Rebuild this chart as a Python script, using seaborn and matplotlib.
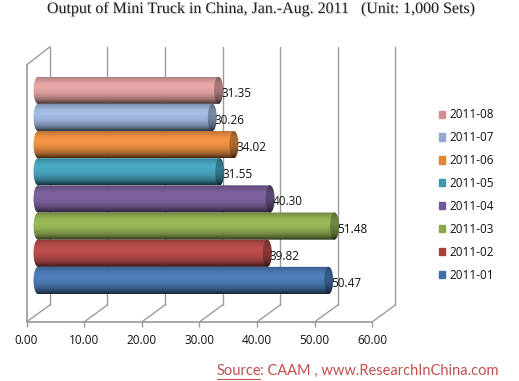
import numpy as np
import pandas as pd
import seaborn as sns
import matplotlib.pyplot as plt
import matplotlib.patheffects as pe
from matplotlib.patches import Patch
from matplotlib.path import Path
from matplotlib.transforms import Affine2D
from matplotlib.colors import to_rgb

# top bar first
months = ['2011-08', '2011-07', '2011-06', '2011-05', '2011-04', '2011-03', '2011-02', '2011-01']
output = [31.35, 30.26, 34.02, 31.55, 40.30, 51.48, 39.82, 50.47]
bar_colors = ['#eba8a9', '#a6bfe8', '#f79646', '#4bacc6', '#8064a2', '#9bbb59', '#c0504d', '#4f81bd']
legend_colors = ['#d09093', '#95a9d0', '#e08638', '#3e97ae', '#73569a', '#8aa848', '#a9403d', '#3e6fa8']
x_ticks = [0, 10, 20, 30, 40, 50, 60]

title = 'Output of Mini Truck in China, Jan.-Aug. 2011   (Unit: 1,000 Sets)'
source_a = 'Source'
source_b = ': CAAM , www.ResearchInChina.com'

W, H = 519, 381
WALL = '#9c9c9c'
RED = '#c0504d'


def px_axes(fig, left, top, right, bottom):
    return fig.add_axes([left / W, 1 - bottom / H, (right - left) / W, (bottom - top) / H])


def shade(color, factor=1.0):
    stops = [0.72, 0.82, 0.97, 1.0, 0.92, 0.72, 0.5, 0.3]
    pos = np.linspace(0, 1, 40)
    vals = np.interp(pos, [0, 0.08, 0.25, 0.38, 0.6, 0.8, 0.92, 1], stops) * factor
    return np.clip(np.outer(vals, to_rgb(color)).reshape(40, 1, 3), 0, 1)


def gradient(ax, path, box, color, factor, z):
    im = ax.imshow(shade(color, factor), extent=box, aspect='auto', zorder=z, interpolation='bilinear')
    im.set_clip_path(path, transform=ax.transData)


sns.set_theme(style='white')
plt.rcParams['font.family'] = ['Open Sans', 'DejaVu Sans']
fig = plt.figure(figsize=(W / 100, H / 100), dpi=100)

# back wall, front plane and overlay share the same 5.76 px per unit
ax_back = px_axes(fig, 49.7, 47, 395.3, 305)
ax_back.set_xlim(0, 60)
ax_back.set_xticks(x_ticks)
ax_back.set_yticks([])
ax_back.grid(axis='x', color=WALL, lw=1)
for line in ax_back.get_xgridlines():
    line.set_clip_on(False)
ax_back.tick_params(labelbottom=False, bottom=False)
sns.despine(ax=ax_back, left=True, bottom=True)

ax_front = px_axes(fig, 26.5, 65, 372.1, 322)
ax_front.patch.set_alpha(0)
ax_front.set_xlim(0, 60)
ax_front.set_xticks(x_ticks)
ax_front.set_xticklabels([f'{t:.2f}' for t in x_ticks], fontsize=8.5, color='#111111')
ax_front.set_yticks([])
ax_front.tick_params(axis='x', bottom=True, length=3.5, width=1, color=WALL, pad=5)
sns.despine(ax=ax_front)
ax_front.spines['left'].set_color(WALL)
ax_front.spines['bottom'].set_color(WALL)

# floor and side wall diagonals, from the same ticks
ax_over = fig.add_axes([0, 0, 1, 1])
ax_over.set_xlim(0, W)
ax_over.set_ylim(H, 0)
ax_over.axis('off')
ax_over.patch.set_alpha(0)
for t in x_ticks:
    ax_over.plot([26.5 + t * 5.76, 49.7 + t * 5.76], [322, 305], color=WALL, lw=1)
ax_over.plot([26.5, 49.7], [65, 47], color=WALL, lw=1)

# bars sit halfway into the depth, axes start 2 units early so the round left ends show
ax_bars = px_axes(fig, 38 - 2 * 5.76, 76.7, 383.6, 294)
ax_bars.patch.set_alpha(0)
df = pd.DataFrame({'month': months, 'output': output})
sns.barplot(data=df, y='month', x='output', hue='month', palette=bar_colors, width=1,
            dodge=False, legend=False, ax=ax_bars)
ax_bars.axis('off')

cap_w = 9 / 5.76
for i, (cont, color) in enumerate(zip(ax_bars.containers, bar_colors)):
    bar = cont[0]
    w, y, h = bar.get_width(), bar.get_y(), bar.get_height()
    bar.set_visible(False)
    y0, y1 = min(y, y + h), max(y, y + h)
    z = 3 + i * 0.01
    squash = Affine2D().scale(cap_w / 2, (y1 - y0) / 2)
    left = Path.unit_circle().transformed(squash + Affine2D().translate(0, (y0 + y1) / 2))
    right = Path.unit_circle().transformed(squash + Affine2D().translate(w, (y0 + y1) / 2))
    rect = Path([(0, y0), (w, y0), (w, y1), (0, y1), (0, y0)], closed=True)
    body = Path.make_compound_path(rect, left)
    gradient(ax_bars, body, (-cap_w, w + cap_w, y1, y0), color, 1.0, z)
    gradient(ax_bars, right, (w - cap_w, w + cap_w, y1, y0), color, 0.72, z + 0.001)
    ax_bars.annotate(f'{output[i]:.2f}', (w, (y0 + y1) / 2), xytext=(1.8, -2.2), textcoords='offset points',
                     ha='left', va='center', fontsize=8.5, color='#111111', zorder=10,
                     annotation_clip=False)
ax_bars.set_xlim(-2, 60)
ax_bars.set_ylim(7.5, -0.5)

handles = [Patch(color=c, label=m) for c, m in zip(legend_colors, months)]
fig.legend(handles=handles, loc='center left', bbox_to_anchor=(428 / W, 1 - 195 / H), frameon=False,
           fontsize=8.5, handlelength=0.55, handleheight=0.55, handletextpad=0.4,
           labelspacing=0.84, labelcolor='#111111')

fig.text(261 / W, 1 - 9 / H, title, ha='center', va='center', fontsize=11.5, family='Liberation Serif', color='#222222',
         path_effects=[pe.withSimplePatchShadow(offset=(0.6, -0.6), shadow_rgbFace='#999999', alpha=0.5)])

ax_over.text(217, 371, source_a, ha='left', va='center', fontsize=10.5, family='Lato', color=RED)
ax_over.text(260, 371, source_b, ha='left', va='center', fontsize=10.5, family='Lato', color=RED)
ax_over.plot([217, 260], [378.5, 378.5], color=RED, lw=0.8)

fig.savefig('out.png', dpi=100)
